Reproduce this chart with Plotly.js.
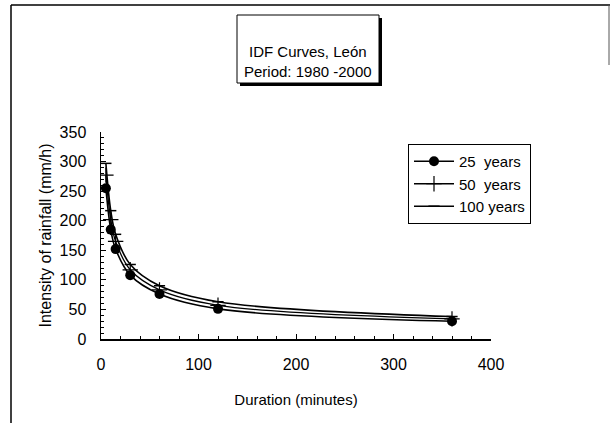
<!DOCTYPE html>
<html>
<head>
<meta charset="utf-8">
<script src="https://cdn.plot.ly/plotly-3.0.1.min.js"></script>
<style>html,body{margin:0;padding:0;background:#fff;}#chart{width:611px;height:423px;}</style>
</head>
<body>
<div id="chart"></div>
<script>
var durations = [5, 10, 15, 30, 60, 120, 360];
var years25 = [255, 185, 152, 108, 76, 51, 30];
var years50 = [277, 202, 165, 117, 83, 57, 34];
var years100 = [297, 217, 177, 126, 90, 63, 38];
var seriesNames = ['25  years', '50  years', '100 years'];
var chartTitle = 'IDF Curves, León<br>Period: 1980 -2000';

var F = 'Arial, "Liberation Sans", sans-serif';

var traces = [
  {x: durations, y: years25, name: seriesNames[0], mode: 'lines+markers', legendgroup: 'a',
   line: {color: '#000', width: 1.6, shape: 'spline', smoothing: 1},
   marker: {symbol: 'circle', size: 10, color: '#000'}},
  {x: durations, y: years50, name: seriesNames[1], mode: 'lines+markers', legendgroup: 'b',
   line: {color: '#000', width: 1.3, shape: 'spline', smoothing: 1},
   marker: {symbol: 'cross-thin', size: 11, color: '#000', line: {color: '#000', width: 1.2}}},
  {x: durations, y: years100, name: seriesNames[2], mode: 'lines+markers', legendgroup: 'c',
   line: {color: '#000', width: 1.6, shape: 'spline', smoothing: 1},
   marker: {symbol: 'line-ew', size: 8, color: '#000', line: {color: '#000', width: 1.5}}}
];

function px(x){ return (x - 101) / 390; }
function py(y){ return (339 - y) / 207; }

var layout = {
  width: 611, height: 423,
  margin: {l: 101, r: 120, t: 132, b: 84},
  paper_bgcolor: '#fff', plot_bgcolor: '#fff',
  font: {family: F, size: 13, color: '#000'},
  showlegend: true,
  legend: {
    x: px(408), y: py(144), xanchor: 'left', yanchor: 'top',
    bordercolor: '#000', borderwidth: 1, bgcolor: '#fff',
    font: {family: F, size: 15, color: '#000'},
    traceorder: 'grouped', tracegroupgap: 0, itemwidth: 40
  },
  xaxis: {
    range: [0, 400], dtick: 100, tick0: 0,
    showgrid: false, zeroline: false,
    showline: true, linecolor: '#000', linewidth: 1.5,
    ticks: 'inside', ticklen: 5, tickcolor: '#000',
    minor: {dtick: 20, ticks: 'inside', ticklen: 3, tickcolor: '#000', showgrid: false},
    ticklabelstandoff: 10,
    tickfont: {family: F, size: 16, color: '#000'},
    title: {text: 'Duration (minutes)', font: {family: F, size: 15, color: '#000'}, standoff: 23}
  },
  yaxis: {
    range: [0, 350], dtick: 50, tick0: 0,
    showgrid: false, zeroline: false,
    showline: true, linecolor: '#000', linewidth: 1.5,
    ticks: 'inside', ticklen: 5, tickcolor: '#000',
    minor: {dtick: 10, ticks: 'inside', ticklen: 3, tickcolor: '#000', showgrid: false},
    ticklabelstandoff: 10,
    tickfont: {family: F, size: 16, color: '#000'},
    title: {text: 'Intensity of rainfall (mm/h)', font: {family: F, size: 16, color: '#000'}, standoff: 4}
  },
  shapes: [
    {type: 'line', xref: 'paper', yref: 'paper', x0: px(11), x1: px(610), y0: py(5), y1: py(5), line: {color: '#000', width: 1.5}},
    {type: 'line', xref: 'paper', yref: 'paper', x0: px(11), x1: px(11), y0: py(5), y1: py(423), line: {color: '#000', width: 1.5}},
    {type: 'line', xref: 'paper', yref: 'paper', x0: px(609), x1: px(609), y0: py(5), y1: py(65), line: {color: '#555', width: 1}},
    {type: 'rect', xref: 'paper', yref: 'paper', x0: px(240), x1: px(382), y0: py(18), y1: py(86), fillcolor: '#000', line: {width: 0}, layer: 'below'},
    {type: 'rect', xref: 'paper', yref: 'paper', x0: px(237), x1: px(379), y0: py(15), y1: py(83), fillcolor: '#fff', line: {color: '#000', width: 1}, layer: 'below'}
  ],
  annotations: [
    {xref: 'paper', yref: 'paper', x: px(308), y: py(61), xanchor: 'center', yanchor: 'middle',
     text: chartTitle, showarrow: false, align: 'center',
     font: {family: F, size: 15, color: '#000'}}
  ]
};

Plotly.newPlot('chart', traces, layout, {displayModeBar: false, staticPlot: true});
</script>
</body>
</html>
